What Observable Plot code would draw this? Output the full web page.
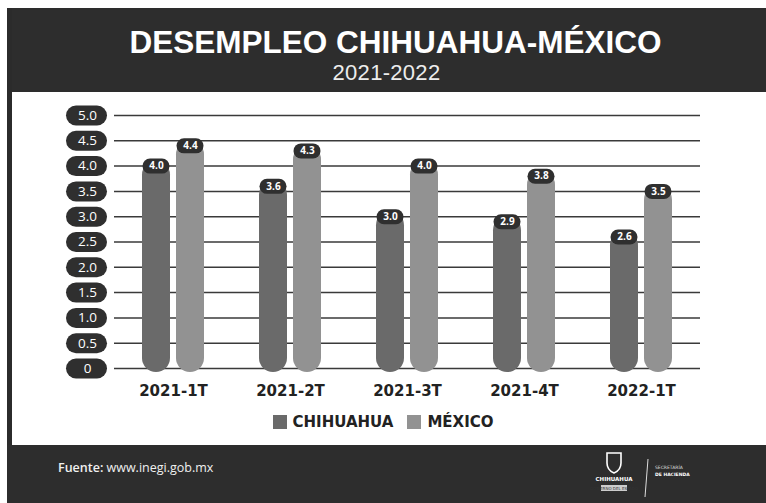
<!DOCTYPE html>
<html>
<head>
<meta charset="utf-8">
<script src="https://cdn.jsdelivr.net/npm/d3@7"></script>
<script src="https://cdn.jsdelivr.net/npm/@observablehq/plot@0.6"></script>
<style>
  body { margin: 0; background: #ffffff; }
  #wrap { position: relative; width: 766px; height: 503px; overflow: hidden; background: #fff; font-family: "Open Sans", "DejaVu Sans", sans-serif; }
  #frameL { position: absolute; left: 7px; top: 8px; width: 5px; height: 495px; background: #2b2b2b; }
  #header { position: absolute; left: 7px; top: 8px; right: 0; height: 84px; background: #2d2d2d; color: #fff; text-align: center; }
  #title { position: absolute; left: 18px; right: 0; top: 16px; font-family: "Liberation Sans", Arial, sans-serif; font-weight: bold; font-size: 31.5px; line-height: 36px; white-space: nowrap; }
  #subtitle { position: absolute; left: 0; right: 0; top: 52px; font-family: "Liberation Sans", Arial, sans-serif; font-weight: normal; font-size: 22px; line-height: 26px; color: #ececec; letter-spacing: 0.3px; }
  #chart { position: absolute; left: 0; top: 92px; }
  #legend { position: absolute; left: 0; right: 0; top: 413px; text-align: center; font-family: "DejaVu Sans", sans-serif; font-weight: bold; font-size: 15px; color: #222; }
  #legend span.sw { display: inline-block; width: 14px; height: 14px; vertical-align: -2px; margin-right: 6px; }
  #legend span.item { margin: 0 7px; }
  #footer { position: absolute; left: 7px; top: 445px; right: 0; bottom: 0; background: #2d2d2d; color: #fff; }
  #source { position: absolute; left: 51px; top: 14px; font-family: "Open Sans", sans-serif; font-size: 12.5px; line-height: 18px; color: #f0f0f0; }
  #logos { position: absolute; left: 570px; top: 2px; }
</style>
</head>
<body>
<div id="wrap">
  <div id="header">
    <div id="title">DESEMPLEO CHIHUAHUA-MÉXICO</div>
    <div id="subtitle">2021-2022</div>
  </div>
  <div id="frameL"></div>
  <div id="chart"></div>
  <div id="legend"></div>
  <div id="footer">
    <div id="source"><b style="font-weight:600">Fuente:</b> www.inegi.gob.mx</div>
    <svg id="logos" width="130" height="56">
      <path d="M30 6 h14 v10 q0 7 -7 10 q-7 -3 -7 -10 z" fill="none" stroke="#fff" stroke-width="1.6"/>
      <text x="37" y="34" fill="#fff" font-family="DejaVu Sans" font-weight="bold" font-size="5.5" text-anchor="middle">CHIHUAHUA</text>
      <rect x="24" y="38" width="26" height="6" fill="#ccc"/>
      <text x="37" y="43" fill="#333" font-family="DejaVu Sans" font-size="4" text-anchor="middle">GOBIERNO DEL ESTADO</text>
      <line x1="71" y1="12" x2="68" y2="50" stroke="#ddd" stroke-width="1"/>
      <text x="78" y="22" fill="#ddd" font-family="DejaVu Sans" font-size="4.5">SECRETARÍA</text>
      <text x="78" y="29" fill="#fff" font-family="DejaVu Sans" font-weight="bold" font-size="4.5">DE HACIENDA</text>
    </svg>
  </div>
</div>
<script>
const periods = ["2021-1T", "2021-2T", "2021-3T", "2021-4T", "2022-1T"];
const seriesNames = ["CHIHUAHUA", "MÉXICO"];
const chihuahua = [4.0, 3.6, 3.0, 2.9, 2.6];
const mexico = [4.4, 4.3, 4.0, 3.8, 3.5];
const yTicks = [0, 0.5, 1.0, 1.5, 2.0, 2.5, 3.0, 3.5, 4.0, 4.5, 5.0];
const yTickLabels = ["0", "0.5", "1.0", "1.5", "2.0", "2.5", "3.0", "3.5", "4.0", "4.5", "5.0"];
const seriesColors = ["#6a6a6a", "#929292"];

const chiData = periods.map((p, i) => ({period: p, series: seriesNames[0], value: chihuahua[i]}));
const mexData = periods.map((p, i) => ({period: p, series: seriesNames[1], value: mexico[i]}));

const pill = "#2f2f2f";
const chart = Plot.plot({
  width: 766,
  height: 353,
  marginLeft: 114,
  marginRight: 66,
  marginTop: 23,
  marginBottom: 77,
  style: {background: "transparent", fontFamily: "'Open Sans', 'DejaVu Sans', sans-serif"},
  x: {domain: periods, paddingInner: 0.471, paddingOuter: 0.2355, label: null},
  y: {domain: [0, 5], axis: null},
  color: {domain: seriesNames, range: seriesColors},
  marks: [
    Plot.ruleY(yTicks, {y: d => d, stroke: "#3a3a3a", strokeWidth: 1.5}),
    Plot.ruleY(yTicks, {y: d => d, stroke: pill, strokeWidth: 20, strokeLinecap: "round", insetLeft: -38, insetRight: 603}),
    Plot.text(yTicks, {y: d => d, text: (d, i) => yTickLabels[i], frameAnchor: "left", textAnchor: "middle", dx: -27, fill: "#fff", fontSize: 13.5}),
    Plot.barY(chiData, {x: "period", y: "value", fill: "series", rx: 14, insetRight: 34, insetTop: -5, insetBottom: -4}),
    Plot.barY(mexData, {x: "period", y: "value", fill: "series", rx: 14, insetLeft: 34, insetTop: -5, insetBottom: -4}),
    Plot.tickY(chiData, {x: "period", y: "value", stroke: pill, strokeWidth: 15, strokeLinecap: "round", insetLeft: 8, insetRight: 42}),
    Plot.tickY(mexData, {x: "period", y: "value", stroke: pill, strokeWidth: 15, strokeLinecap: "round", insetLeft: 42, insetRight: 8}),
    Plot.text(chiData, {x: "period", y: "value", text: d => d.value.toFixed(1), dx: -17, fill: "#fff", fontSize: 10, fontWeight: "bold"}),
    Plot.text(mexData, {x: "period", y: "value", text: d => d.value.toFixed(1), dx: 17, fill: "#fff", fontSize: 10, fontWeight: "bold"}),
    Plot.axisX({tickSize: 0, tickPadding: 17, fontSize: 15, fontWeight: "bold", fill: "#222", fontFamily: "'DejaVu Sans', sans-serif", label: null})
  ]
});
document.getElementById("chart").appendChild(chart);

const legend = document.getElementById("legend");
seriesNames.forEach((s, i) => {
  const item = document.createElement("span");
  item.className = "item";
  const sw = document.createElement("span");
  sw.className = "sw";
  sw.style.background = seriesColors[i];
  item.appendChild(sw);
  item.appendChild(document.createTextNode(s));
  legend.appendChild(item);
});
</script>
</body>
</html>
